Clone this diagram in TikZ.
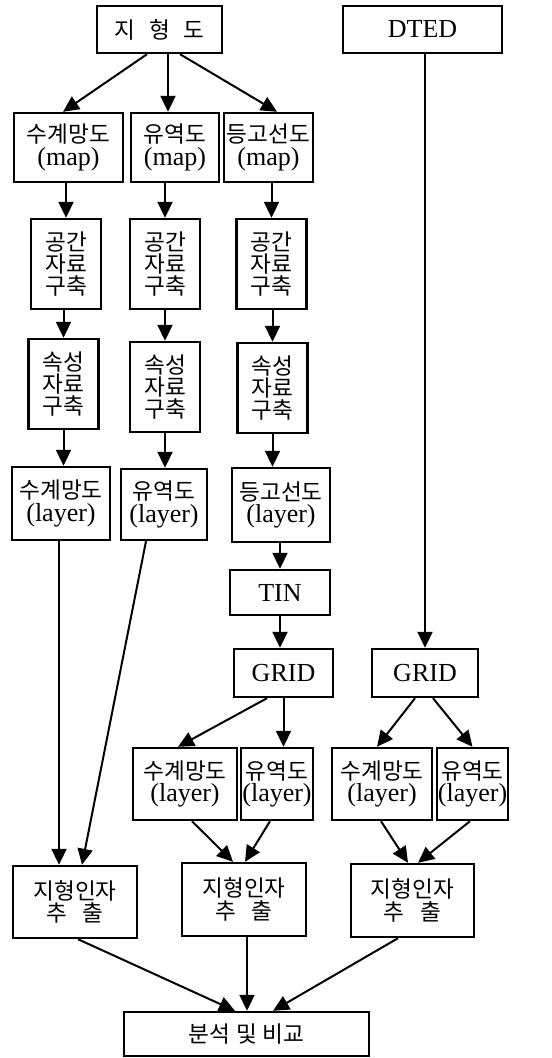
\documentclass[tikz,border=0pt]{standalone}
\usepackage{fontspec}
\setmainfont{Liberation Serif}
\newfontfamily\kr[Scale=0.87]{Noto Sans CJK KR}
\usetikzlibrary{arrows.meta}

\begin{document}
\begin{tikzpicture}[x=0.5pt,y=-0.5pt]
	\tikzstyle{box} = [draw, rectangle, line width=1.2pt, inner sep=0pt, align=center, font={\fontsize{13}{11.2}\selectfont}];
	\tikzstyle{stepbox} = [box, minimum width=35pt, minimum height=45pt];
	\tikzstyle{flow} = [-{Triangle[length=8pt,width=7.5pt]}, line width=1pt];

	\useasboundingbox (0,0) rectangle (551,1058);

	% sources
	\node[box, minimum width=62.5pt, minimum height=23.5pt] (topo) at (159.5,29.5) {\kr 지\hspace{7pt}형\hspace{7pt}도};
	\node[box, minimum width=79.5pt, minimum height=23.5pt] (dted) at (422.5,29.5) {DTED};

	\node[box, minimum width=54.5pt, minimum height=34.5pt] (mapA) at (68.5,147.5) {\kr 수계망도\\(map)};
	\node[box, minimum width=44pt, minimum height=34.5pt] (mapB) at (175,147.5) {\kr 유역도\\(map)};
	\node[box, minimum width=44.5pt, minimum height=34.5pt] (mapC) at (268.5,147.5) {\kr 등고선도\\(map)};

	\draw[flow] ([xshift=-6.25pt]topo.south) -- ([xshift=-2.75pt]mapA.north);
	\draw[flow] ([xshift=4.25pt]topo.south) -- ([xshift=-3.5pt]mapB.north);
	\draw[flow] ([xshift=10.25pt]topo.south) -- ([xshift=4.25pt]mapC.north);

	% digitizing
	\foreach \n/\x/\xa/\ya in {A/66/63.5/384, B/165/165/387, C/271.5/272.5/388} {
		\node[stepbox] (sp\n) at (\x,264) {\kr 공간\\\kr 자료\\\kr 구축};
		\node[stepbox] (at\n) at (\xa,\ya) {\kr 속성\\\kr 자료\\\kr 구축};
		\draw[flow] (map\n.south -| sp\n) -- (sp\n.north);
		\draw[flow] (sp\n.south -| at\n) -- (at\n.north);
	}

	\node[box, minimum width=49pt, minimum height=36.5pt] (layA) at (61,503.5) {\kr 수계망도\\(layer)};
	\node[box, minimum width=43pt, minimum height=35.5pt] (layB) at (164,504.5) {\kr 유역도\\(layer)};
	\node[box, minimum width=49pt, minimum height=37pt] (layC) at (281,505) {\kr 등고선도\\(layer)};

	\draw[flow] (atA.south) -- (atA.south |- layA.north);
	\draw[flow] (atB.south) -- (atB.south |- layB.north);
	\draw[flow] (atC.south) -- (atC.south |- layC.north);

	% surfaces
	\node[box, minimum width=50pt, minimum height=22.5pt] (tin) at (280,592.5) {TIN};
	\node[box, minimum width=49.5pt, minimum height=24pt] (gridA) at (283.5,673) {GRID};
	\node[box, minimum width=53pt, minimum height=24pt] (gridB) at (425,673) {GRID};

	\draw[flow] (layC.south -| tin) -- (tin.north);
	\draw[flow] (tin.south) -- (tin.south |- gridA.north);
	\draw[flow] (dted.south -| gridB) -- (gridB.north);

	\node[box, minimum width=52pt, minimum height=36pt] (swA) at (185,784) {\kr 수계망도\\(layer)};
	\node[box, minimum width=36pt, minimum height=36pt] (wsA) at (277,784) {\kr 유역도\\(layer)};
	\node[box, minimum width=50pt, minimum height=36pt] (swB) at (382,784) {\kr 수계망도\\(layer)};
	\node[box, minimum width=35.5pt, minimum height=36pt] (wsB) at (472.5,784) {\kr 유역도\\(layer)};

	\draw[flow] ([xshift=-8.25pt]gridA.south) -- ([xshift=-3.5pt]swA.north);
	\draw[flow] (gridA.south) -- (gridA.south |- wsA.north);
	\draw[flow] ([xshift=-5pt]gridB.south) -- ([xshift=-2.5pt]swB.north);
	\draw[flow] ([xshift=4pt]gridB.south) -- (wsB.north);

	% factors
	\node[box, minimum width=62pt, minimum height=36pt] (extA) at (75,902) {\kr 지형인자\\\kr 추\hspace{8pt}출};
	\node[box, minimum width=62pt, minimum height=36.5pt] (extB) at (244,899.5) {\kr 지형인자\\\kr 추\hspace{8pt}출};
	\node[box, minimum width=61.5pt, minimum height=36.5pt] (extC) at (412.5,900.5) {\kr 지형인자\\\kr 추\hspace{8pt}출};

	\draw[flow] ([xshift=-1pt]layA.south) -- ([xshift=-1pt]layA.south |- extA.north);
	\draw[flow] ([xshift=-9pt]layB.south) -- ([xshift=3.5pt]extA.north);
	\draw[flow] ([xshift=3.5pt]swA.south) -- ([xshift=-5.5pt]extB.north);
	\draw[flow] ([xshift=-3.5pt]wsA.south) -- ([xshift=0.5pt]extB.north);
	\draw[flow] ([xshift=-0.5pt]swB.south) -- ([xshift=-2.25pt]extC.north);
	\draw[flow] ([xshift=-1.25pt]wsB.south) -- ([xshift=2.75pt]extC.north);

	\node[box, minimum width=122.5pt, minimum height=22pt] (cmp) at (246.5,1034) {\kr 분석\hspace{3pt}및\hspace{3pt}비교};

	\draw[flow] ([xshift=1.5pt]extA.south) -- ([xshift=-5.75pt]cmp.north);
	\draw[flow] ([xshift=1.5pt]extB.south) -- ([xshift=1.5pt]extB.south |- cmp.north);
	\draw[flow] ([xshift=-7.25pt]extC.south) -- ([xshift=13.25pt]cmp.north);
\end{tikzpicture}
\end{document}
